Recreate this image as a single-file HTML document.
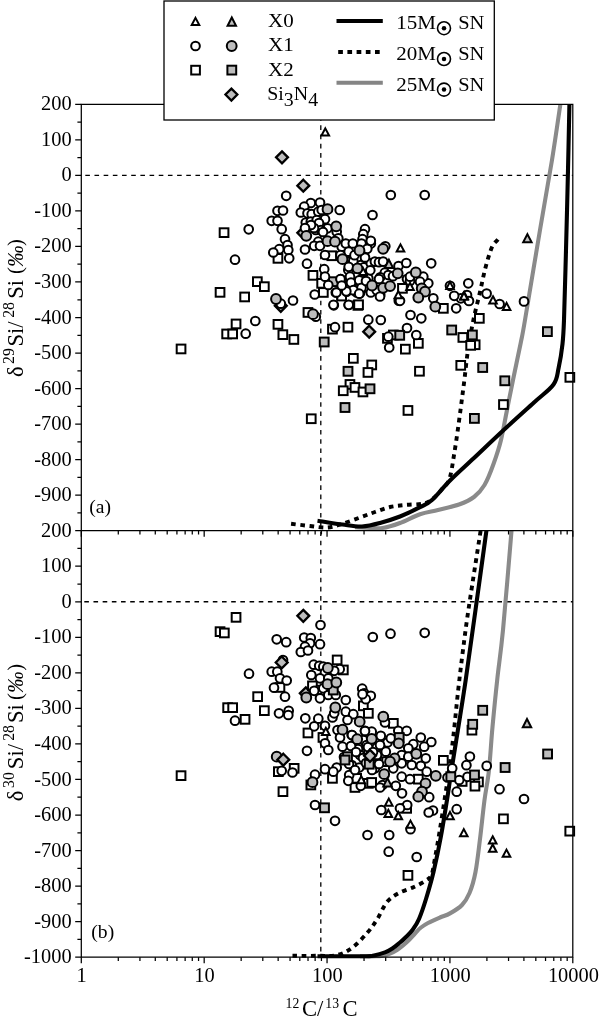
<!DOCTYPE html><html><head><meta charset="utf-8"><title>Si isotopes vs 12C/13C</title>
<style>html,body{margin:0;padding:0;background:#fff}svg{display:block}text{font-family:"Liberation Serif","DejaVu Serif",serif;fill:#000}</style></head><body>
<svg width="600" height="1021" viewBox="0 0 600 1021">
<rect width="600" height="1021" fill="#fff"/>
<defs><clipPath id="ca"><rect x="81.3" y="104.3" width="493.5" height="426.4"/></clipPath><clipPath id="cb"><rect x="81.3" y="530.7" width="493.5" height="428.7"/></clipPath></defs>
<g stroke="#000" stroke-width="1.3" fill="none">
<path d="M85.3 175.374 H572.8" stroke-dasharray="4.6 4.58"/>
<path d="M84.3 601.774 H572.8" stroke-dasharray="4.6 4.58"/>
<path d="M320.8 106.9 V957.2" stroke-dasharray="4.6 4.63"/>
</g>
<g fill="none" stroke-linejoin="round" clip-path="url(#ca)">
<path d="M355.0 527.3 C356.7 527.3 360.4 527.5 365.0 527.6 C369.6 527.7 376.7 528.8 382.5 528.0 C388.3 527.2 393.8 525.3 400.0 523.0 C406.2 520.7 413.7 516.4 420.0 514.2 C426.3 512.0 431.5 511.6 438.0 510.0 C444.5 508.4 453.0 506.7 459.0 504.5 C465.0 502.3 469.8 500.2 474.0 497.0 C478.2 493.8 481.2 490.5 484.5 485.0 C487.8 479.5 490.8 471.5 493.5 464.0 C496.2 456.5 498.8 449.0 501.0 440.0 C503.2 431.0 505.0 420.0 507.0 410.0 C509.0 400.0 510.8 391.0 513.0 380.0 C515.2 369.0 518.5 354.0 520.5 344.0 C522.5 334.0 521.8 339.0 525.0 320.0 C528.2 301.0 535.5 256.7 540.0 230.0 C544.5 203.3 548.5 181.7 552.0 160.0 C555.5 138.3 559.5 110.0 561.0 100.0" stroke="#8a8a8a" stroke-width="4.1"/>
<path d="M317.5 520.7 C321.7 521.3 335.1 523.5 342.5 524.5 C349.9 525.5 355.8 526.8 362.0 526.5 C368.2 526.2 373.7 524.7 380.0 523.0 C386.3 521.3 393.3 519.1 400.0 516.5 C406.7 513.9 414.7 509.9 420.0 507.2 C425.3 504.4 427.0 504.4 432.0 500.0 C437.0 495.6 443.0 487.5 450.0 480.5 C457.0 473.5 465.5 466.0 474.0 458.0 C482.5 450.0 491.0 441.8 501.0 432.5 C511.0 423.2 525.2 410.5 534.0 402.5 C542.8 394.5 549.4 390.2 553.5 384.5 C557.6 378.8 557.1 374.8 558.6 368.0 C560.1 361.2 561.6 352.0 562.5 344.0 C563.4 336.0 563.4 335.7 564.0 320.0 C564.6 304.3 565.3 275.0 566.0 250.0 C566.7 225.0 567.4 195.0 568.0 170.0 C568.6 145.0 569.2 111.7 569.5 100.0" stroke="#000" stroke-width="4.1"/>
<path d="M498.0 239.5 C497.0 240.8 494.1 242.2 492.0 247.0 C489.9 251.8 487.4 260.5 485.4 268.0 C483.4 275.5 482.0 283.3 480.0 292.0 C478.0 300.7 475.4 310.3 473.4 320.0 C471.4 329.7 469.5 340.0 468.0 350.0 C466.5 360.0 465.6 370.0 464.4 380.0 C463.1 390.0 462.1 398.0 460.5 410.0 C458.9 422.0 456.4 440.5 454.5 452.0 C452.6 463.5 451.5 472.8 449.4 479.0 C447.3 485.2 444.9 485.6 442.0 489.0 C439.1 492.4 435.2 497.1 432.0 499.5 C428.8 501.9 427.0 502.8 422.5 503.7 C418.0 504.6 410.4 504.4 405.0 505.0 C399.6 505.6 395.0 505.8 390.0 507.0 C385.0 508.2 380.0 510.2 375.0 512.0 C370.0 513.8 365.4 515.5 360.0 517.5 C354.6 519.5 347.9 522.0 342.5 523.7 C337.1 525.4 332.9 527.1 327.5 527.5 C322.1 527.9 316.2 526.6 310.0 526.0 C303.8 525.4 293.8 524.1 290.5 523.7" stroke="#000" stroke-width="3.9" stroke-dasharray="4.6 4.6"/>
</g>
<g fill="none" stroke-linejoin="round" clip-path="url(#cb)">
<path d="M360.0 956.3 C362.7 956.3 372.2 956.4 376.0 956.3 C379.8 956.2 380.7 956.0 383.0 955.6 C385.3 955.2 387.7 954.5 390.0 953.6 C392.3 952.7 394.8 951.4 397.0 950.0 C399.2 948.6 401.0 947.2 403.0 945.5 C405.0 943.8 407.0 942.0 409.0 940.0 C411.0 938.0 413.0 935.6 415.0 933.5 C417.0 931.4 418.8 929.2 421.0 927.5 C423.2 925.8 424.8 924.7 428.0 923.0 C431.2 921.3 436.3 919.1 440.0 917.5 C443.7 915.9 446.3 915.5 450.0 913.4 C453.7 911.3 458.8 908.4 462.0 905.0 C465.2 901.6 467.2 898.5 469.5 893.0 C471.8 887.5 473.8 881.0 475.5 872.0 C477.2 863.0 478.5 851.0 480.0 839.0 C481.5 827.0 483.0 811.5 484.5 800.0 C486.0 788.5 487.7 782.2 489.0 770.0 C490.3 757.8 491.1 742.0 492.5 727.0 C493.9 712.0 495.4 696.2 497.2 680.0 C498.9 663.8 500.5 655.8 503.0 630.0 C505.5 604.2 510.5 542.5 512.0 525.0" stroke="#8a8a8a" stroke-width="4.1"/>
<path d="M317.5 956.2 C325.6 956.2 356.6 956.3 366.0 956.2 C375.4 956.1 370.8 956.0 374.0 955.4 C377.2 954.8 381.8 953.5 385.0 952.3 C388.2 951.1 390.5 949.6 393.0 948.0 C395.5 946.4 397.8 944.3 400.0 942.5 C402.2 940.7 403.9 939.1 406.0 937.0 C408.1 934.9 410.3 933.0 412.5 930.0 C414.7 927.0 416.8 924.2 419.0 919.0 C421.2 913.8 423.6 906.8 426.0 899.0 C428.4 891.2 431.0 882.5 433.5 872.0 C436.0 861.5 438.8 848.0 441.0 836.0 C443.2 824.0 445.2 811.0 447.0 800.0 C448.8 789.0 449.9 780.0 451.5 770.0 C453.1 760.0 453.9 755.0 456.3 740.0 C458.7 725.0 462.5 701.7 465.7 680.0 C468.9 658.3 471.9 635.8 475.5 610.0 C479.1 584.2 485.2 539.2 487.2 525.0" stroke="#000" stroke-width="4.1"/>
<path d="M482.0 522.0 C479.8 536.0 472.2 584.7 469.0 606.0 C465.8 627.3 464.8 636.0 463.0 650.0 C461.2 664.0 459.8 675.8 458.2 690.0 C456.6 704.2 455.0 721.7 453.5 735.0 C452.0 748.3 450.5 759.2 449.0 770.0 C447.5 780.8 446.1 789.7 444.5 800.0 C442.9 810.3 441.1 822.3 439.5 832.0 C437.9 841.7 436.3 850.8 435.0 858.0 C433.7 865.2 433.0 871.3 431.5 875.0 C430.0 878.7 428.9 878.4 426.0 880.4 C423.1 882.4 418.5 884.9 414.0 887.0 C409.5 889.1 403.5 890.5 399.0 893.0 C394.5 895.5 390.6 897.7 387.0 902.0 C383.4 906.3 380.8 913.6 377.5 918.7 C374.2 923.8 371.7 927.7 367.5 932.5 C363.3 937.3 357.5 943.8 352.5 947.5 C347.5 951.2 343.2 953.6 337.5 955.0 C331.8 956.4 325.9 955.7 318.0 955.8 C310.1 955.9 294.7 955.8 290.0 955.8" stroke="#000" stroke-width="3.9" stroke-dasharray="4.6 4.6"/>
</g>
<g stroke="#000" stroke-width="2" stroke-linejoin="miter">
<path d="M303.3 226.9 l5.95 5.95 l-5.95 5.95 l-5.95 -5.95 z" fill="#bdbdbd" stroke-width="2.3"/>
<path d="M280.8 299.9 l5.95 5.95 l-5.95 5.95 l-5.95 -5.95 z" fill="#bdbdbd" stroke-width="2.3"/>
<path d="M305.8 687.4 l5.95 5.95 l-5.95 5.95 l-5.95 -5.95 z" fill="#bdbdbd" stroke-width="2.3"/>
<rect x="328.9" y="277.3" width="8.8" height="8.8" fill="#bdbdbd"/>
<rect x="219.7" y="228.3" width="8.7" height="8.7" fill="#fff"/>
<rect x="215.7" y="288.0" width="8.7" height="8.7" fill="#fff"/>
<rect x="253.0" y="277.3" width="8.7" height="8.7" fill="#fff"/>
<rect x="260.0" y="282.3" width="8.7" height="8.7" fill="#fff"/>
<rect x="240.3" y="292.6" width="8.7" height="8.7" fill="#fff"/>
<rect x="231.7" y="319.6" width="8.7" height="8.7" fill="#fff"/>
<rect x="222.3" y="329.6" width="8.7" height="8.7" fill="#fff"/>
<rect x="228.3" y="329.6" width="8.7" height="8.7" fill="#fff"/>
<rect x="176.7" y="344.6" width="8.7" height="8.7" fill="#fff"/>
<rect x="273.6" y="320.0" width="8.7" height="8.7" fill="#fff"/>
<rect x="273.6" y="254.0" width="8.7" height="8.7" fill="#fff"/>
<rect x="308.6" y="271.0" width="8.7" height="8.7" fill="#fff"/>
<rect x="317.3" y="279.0" width="8.7" height="8.7" fill="#fff"/>
<rect x="319.0" y="288.1" width="8.7" height="8.7" fill="#fff"/>
<rect x="337.3" y="290.6" width="8.7" height="8.7" fill="#fff"/>
<rect x="303.6" y="308.1" width="8.7" height="8.7" fill="#fff"/>
<rect x="353.5" y="301.0" width="8.7" height="8.7" fill="#fff"/>
<rect x="278.5" y="330.3" width="8.7" height="8.7" fill="#fff"/>
<rect x="289.5" y="335.1" width="8.7" height="8.7" fill="#fff"/>
<rect x="328.1" y="324.8" width="8.7" height="8.7" fill="#fff"/>
<rect x="343.6" y="322.8" width="8.7" height="8.7" fill="#fff"/>
<rect x="349.0" y="354.0" width="8.7" height="8.7" fill="#fff"/>
<rect x="354.2" y="300.4" width="8.7" height="8.7" fill="#fff"/>
<rect x="327.4" y="251.4" width="8.7" height="8.7" fill="#fff"/>
<rect x="337.3" y="291.7" width="8.7" height="8.7" fill="#fff"/>
<rect x="398.1" y="284.0" width="8.7" height="8.7" fill="#fff"/>
<rect x="439.0" y="304.0" width="8.7" height="8.7" fill="#fff"/>
<rect x="383.1" y="334.0" width="8.7" height="8.7" fill="#fff"/>
<rect x="389.0" y="330.6" width="8.7" height="8.7" fill="#fff"/>
<rect x="458.5" y="333.1" width="8.7" height="8.7" fill="#fff"/>
<rect x="414.0" y="339.0" width="8.7" height="8.7" fill="#fff"/>
<rect x="401.0" y="344.8" width="8.7" height="8.7" fill="#fff"/>
<rect x="475.0" y="314.0" width="8.7" height="8.7" fill="#fff"/>
<rect x="367.4" y="360.6" width="8.7" height="8.7" fill="#fff"/>
<rect x="363.6" y="368.1" width="8.7" height="8.7" fill="#fff"/>
<rect x="345.6" y="380.1" width="8.7" height="8.7" fill="#fff"/>
<rect x="350.6" y="383.1" width="8.7" height="8.7" fill="#fff"/>
<rect x="338.9" y="386.4" width="8.7" height="8.7" fill="#fff"/>
<rect x="358.6" y="387.6" width="8.7" height="8.7" fill="#fff"/>
<rect x="306.9" y="414.4" width="8.7" height="8.7" fill="#fff"/>
<rect x="403.6" y="406.1" width="8.7" height="8.7" fill="#fff"/>
<rect x="415.1" y="366.9" width="8.7" height="8.7" fill="#fff"/>
<rect x="470.8" y="340.4" width="8.7" height="8.7" fill="#fff"/>
<rect x="466.3" y="341.0" width="8.7" height="8.7" fill="#fff"/>
<rect x="456.4" y="361.0" width="8.7" height="8.7" fill="#fff"/>
<rect x="499.1" y="400.2" width="8.7" height="8.7" fill="#fff"/>
<rect x="565.5" y="373.0" width="8.7" height="8.7" fill="#fff"/>
<rect x="231.7" y="613.0" width="8.7" height="8.7" fill="#fff"/>
<rect x="215.7" y="627.3" width="8.7" height="8.7" fill="#fff"/>
<rect x="220.0" y="628.6" width="8.7" height="8.7" fill="#fff"/>
<rect x="253.3" y="692.3" width="8.7" height="8.7" fill="#fff"/>
<rect x="223.3" y="703.3" width="8.7" height="8.7" fill="#fff"/>
<rect x="228.3" y="703.3" width="8.7" height="8.7" fill="#fff"/>
<rect x="260.0" y="706.3" width="8.7" height="8.7" fill="#fff"/>
<rect x="240.7" y="715.0" width="8.7" height="8.7" fill="#fff"/>
<rect x="176.7" y="771.3" width="8.7" height="8.7" fill="#fff"/>
<rect x="274.0" y="767.3" width="8.7" height="8.7" fill="#fff"/>
<rect x="332.8" y="655.6" width="8.7" height="8.7" fill="#fff"/>
<rect x="339.0" y="665.6" width="8.7" height="8.7" fill="#fff"/>
<rect x="275.6" y="683.1" width="8.7" height="8.7" fill="#fff"/>
<rect x="308.1" y="681.5" width="8.7" height="8.7" fill="#fff"/>
<rect x="303.6" y="728.6" width="8.7" height="8.7" fill="#fff"/>
<rect x="318.6" y="733.1" width="8.7" height="8.7" fill="#fff"/>
<rect x="359.0" y="701.5" width="8.7" height="8.7" fill="#fff"/>
<rect x="364.0" y="709.0" width="8.7" height="8.7" fill="#fff"/>
<rect x="289.8" y="764.0" width="8.7" height="8.7" fill="#fff"/>
<rect x="306.5" y="780.6" width="8.7" height="8.7" fill="#fff"/>
<rect x="328.1" y="774.0" width="8.7" height="8.7" fill="#fff"/>
<rect x="352.3" y="774.0" width="8.7" height="8.7" fill="#fff"/>
<rect x="278.6" y="787.3" width="8.7" height="8.7" fill="#fff"/>
<rect x="350.6" y="783.1" width="8.7" height="8.7" fill="#fff"/>
<rect x="364.0" y="779.0" width="8.7" height="8.7" fill="#fff"/>
<rect x="389.0" y="719.0" width="8.7" height="8.7" fill="#fff"/>
<rect x="382.3" y="757.3" width="8.7" height="8.7" fill="#fff"/>
<rect x="414.0" y="774.8" width="8.7" height="8.7" fill="#fff"/>
<rect x="439.0" y="756.0" width="8.7" height="8.7" fill="#fff"/>
<rect x="367.3" y="778.1" width="8.7" height="8.7" fill="#fff"/>
<rect x="402.3" y="804.0" width="8.7" height="8.7" fill="#fff"/>
<rect x="403.6" y="871.0" width="8.7" height="8.7" fill="#fff"/>
<rect x="467.6" y="725.8" width="8.7" height="8.7" fill="#fff"/>
<rect x="457.8" y="777.1" width="8.7" height="8.7" fill="#fff"/>
<rect x="474.1" y="777.6" width="8.7" height="8.7" fill="#fff"/>
<rect x="470.6" y="781.8" width="8.7" height="8.7" fill="#fff"/>
<rect x="499.1" y="814.5" width="8.7" height="8.7" fill="#fff"/>
<rect x="565.4" y="826.8" width="8.7" height="8.7" fill="#fff"/>
<circle cx="248.7" cy="229.3" r="4.35" fill="#fff"/>
<circle cx="235.0" cy="259.7" r="4.35" fill="#fff"/>
<circle cx="255.3" cy="321.0" r="4.35" fill="#fff"/>
<circle cx="245.7" cy="333.7" r="4.35" fill="#fff"/>
<circle cx="286.2" cy="195.8" r="4.35" fill="#fff"/>
<circle cx="277.5" cy="210.8" r="4.35" fill="#fff"/>
<circle cx="283.0" cy="210.5" r="4.35" fill="#fff"/>
<circle cx="271.7" cy="220.8" r="4.35" fill="#fff"/>
<circle cx="277.5" cy="220.8" r="4.35" fill="#fff"/>
<circle cx="281.7" cy="229.2" r="4.35" fill="#fff"/>
<circle cx="285.0" cy="239.2" r="4.35" fill="#fff"/>
<circle cx="287.5" cy="245.0" r="4.35" fill="#fff"/>
<circle cx="279.2" cy="249.2" r="4.35" fill="#fff"/>
<circle cx="288.3" cy="250.0" r="4.35" fill="#fff"/>
<circle cx="273.3" cy="252.5" r="4.35" fill="#fff"/>
<circle cx="289.2" cy="258.3" r="4.35" fill="#fff"/>
<circle cx="310.8" cy="203.0" r="4.35" fill="#fff"/>
<circle cx="320.0" cy="202.5" r="4.35" fill="#fff"/>
<circle cx="304.2" cy="206.7" r="4.35" fill="#fff"/>
<circle cx="300.8" cy="212.5" r="4.35" fill="#fff"/>
<circle cx="307.5" cy="213.3" r="4.35" fill="#fff"/>
<circle cx="311.7" cy="214.2" r="4.35" fill="#fff"/>
<circle cx="318.3" cy="211.7" r="4.35" fill="#fff"/>
<circle cx="321.7" cy="210.0" r="4.35" fill="#fff"/>
<circle cx="339.7" cy="210.0" r="4.35" fill="#fff"/>
<circle cx="325.0" cy="219.2" r="4.35" fill="#fff"/>
<circle cx="305.8" cy="222.5" r="4.35" fill="#fff"/>
<circle cx="310.8" cy="221.7" r="4.35" fill="#fff"/>
<circle cx="316.7" cy="220.0" r="4.35" fill="#fff"/>
<circle cx="313.3" cy="226.7" r="4.35" fill="#fff"/>
<circle cx="320.0" cy="226.7" r="4.35" fill="#fff"/>
<circle cx="323.3" cy="228.3" r="4.35" fill="#fff"/>
<circle cx="327.5" cy="228.3" r="4.35" fill="#fff"/>
<circle cx="336.7" cy="231.7" r="4.35" fill="#fff"/>
<circle cx="315.8" cy="230.0" r="4.35" fill="#fff"/>
<circle cx="318.3" cy="241.7" r="4.35" fill="#fff"/>
<circle cx="314.2" cy="245.8" r="4.35" fill="#fff"/>
<circle cx="320.0" cy="245.8" r="4.35" fill="#fff"/>
<circle cx="338.3" cy="238.3" r="4.35" fill="#fff"/>
<circle cx="305.0" cy="249.5" r="4.35" fill="#fff"/>
<circle cx="325.0" cy="255.0" r="4.35" fill="#fff"/>
<circle cx="345.8" cy="244.2" r="4.35" fill="#fff"/>
<circle cx="341.7" cy="246.7" r="4.35" fill="#fff"/>
<circle cx="352.5" cy="247.5" r="4.35" fill="#fff"/>
<circle cx="365.0" cy="229.2" r="4.35" fill="#fff"/>
<circle cx="363.3" cy="234.2" r="4.35" fill="#fff"/>
<circle cx="362.5" cy="239.2" r="4.35" fill="#fff"/>
<circle cx="366.7" cy="246.7" r="4.35" fill="#fff"/>
<circle cx="348.3" cy="253.3" r="4.35" fill="#fff"/>
<circle cx="353.3" cy="255.0" r="4.35" fill="#fff"/>
<circle cx="307.0" cy="263.7" r="4.35" fill="#fff"/>
<circle cx="324.2" cy="269.2" r="4.35" fill="#fff"/>
<circle cx="325.0" cy="276.7" r="4.35" fill="#fff"/>
<circle cx="328.3" cy="285.0" r="4.35" fill="#fff"/>
<circle cx="340.8" cy="279.2" r="4.35" fill="#fff"/>
<circle cx="314.7" cy="294.5" r="4.35" fill="#fff"/>
<circle cx="335.8" cy="292.5" r="4.35" fill="#fff"/>
<circle cx="346.7" cy="291.7" r="4.35" fill="#fff"/>
<circle cx="352.5" cy="282.5" r="4.35" fill="#fff"/>
<circle cx="361.7" cy="287.5" r="4.35" fill="#fff"/>
<circle cx="356.7" cy="292.5" r="4.35" fill="#fff"/>
<circle cx="348.3" cy="270.0" r="4.35" fill="#fff"/>
<circle cx="353.3" cy="263.3" r="4.35" fill="#fff"/>
<circle cx="360.8" cy="265.0" r="4.35" fill="#fff"/>
<circle cx="365.0" cy="271.7" r="4.35" fill="#fff"/>
<circle cx="368.3" cy="278.3" r="4.35" fill="#fff"/>
<circle cx="356.7" cy="276.7" r="4.35" fill="#fff"/>
<circle cx="363.3" cy="281.7" r="4.35" fill="#fff"/>
<circle cx="348.3" cy="285.0" r="4.35" fill="#fff"/>
<circle cx="368.3" cy="288.3" r="4.35" fill="#fff"/>
<circle cx="360.0" cy="293.3" r="4.35" fill="#fff"/>
<circle cx="350.0" cy="276.7" r="4.35" fill="#fff"/>
<circle cx="280.8" cy="303.7" r="4.35" fill="#fff"/>
<circle cx="293.0" cy="300.5" r="4.35" fill="#fff"/>
<circle cx="315.8" cy="316.7" r="4.35" fill="#fff"/>
<circle cx="333.8" cy="305.3" r="4.35" fill="#fff"/>
<circle cx="348.7" cy="305.0" r="4.35" fill="#fff"/>
<circle cx="335.0" cy="327.2" r="4.35" fill="#fff"/>
<circle cx="368.3" cy="319.7" r="4.35" fill="#fff"/>
<circle cx="345.8" cy="243.5" r="4.35" fill="#fff"/>
<circle cx="352.8" cy="243.5" r="4.35" fill="#fff"/>
<circle cx="361.5" cy="243.5" r="4.35" fill="#fff"/>
<circle cx="370.8" cy="243.5" r="4.35" fill="#fff"/>
<circle cx="367.3" cy="248.8" r="4.35" fill="#fff"/>
<circle cx="348.7" cy="251.7" r="4.35" fill="#fff"/>
<circle cx="340.5" cy="255.2" r="4.35" fill="#fff"/>
<circle cx="353.3" cy="261.0" r="4.35" fill="#fff"/>
<circle cx="348.7" cy="266.8" r="4.35" fill="#fff"/>
<circle cx="363.8" cy="267.4" r="4.35" fill="#fff"/>
<circle cx="370.8" cy="263.3" r="4.35" fill="#fff"/>
<circle cx="374.9" cy="261.6" r="4.35" fill="#fff"/>
<circle cx="379.0" cy="262.2" r="4.35" fill="#fff"/>
<circle cx="383.1" cy="261.6" r="4.35" fill="#fff"/>
<circle cx="370.3" cy="270.3" r="4.35" fill="#fff"/>
<circle cx="384.8" cy="272.7" r="4.35" fill="#fff"/>
<circle cx="388.3" cy="275.0" r="4.35" fill="#fff"/>
<circle cx="393.0" cy="276.2" r="4.35" fill="#fff"/>
<circle cx="380.2" cy="277.3" r="4.35" fill="#fff"/>
<circle cx="340.5" cy="279.1" r="4.35" fill="#fff"/>
<circle cx="351.0" cy="282.6" r="4.35" fill="#fff"/>
<circle cx="359.2" cy="280.3" r="4.35" fill="#fff"/>
<circle cx="361.5" cy="287.8" r="4.35" fill="#fff"/>
<circle cx="353.3" cy="290.2" r="4.35" fill="#fff"/>
<circle cx="346.3" cy="291.3" r="4.35" fill="#fff"/>
<circle cx="336.4" cy="292.5" r="4.35" fill="#fff"/>
<circle cx="341.7" cy="285.5" r="4.35" fill="#fff"/>
<circle cx="359.2" cy="293.7" r="4.35" fill="#fff"/>
<circle cx="370.8" cy="292.5" r="4.35" fill="#fff"/>
<circle cx="380.2" cy="294.8" r="4.35" fill="#fff"/>
<circle cx="376.7" cy="290.2" r="4.35" fill="#fff"/>
<circle cx="333.5" cy="304.8" r="4.35" fill="#fff"/>
<circle cx="348.7" cy="304.8" r="4.35" fill="#fff"/>
<circle cx="398.8" cy="300.7" r="4.35" fill="#fff"/>
<circle cx="365.0" cy="257.5" r="4.35" fill="#fff"/>
<circle cx="354.5" cy="255.2" r="4.35" fill="#fff"/>
<circle cx="390.8" cy="195.0" r="4.35" fill="#fff"/>
<circle cx="424.7" cy="195.0" r="4.35" fill="#fff"/>
<circle cx="372.5" cy="215.0" r="4.35" fill="#fff"/>
<circle cx="370.8" cy="240.8" r="4.35" fill="#fff"/>
<circle cx="385.3" cy="246.3" r="4.35" fill="#fff"/>
<circle cx="366.0" cy="281.0" r="4.35" fill="#fff"/>
<circle cx="380.0" cy="296.5" r="4.35" fill="#fff"/>
<circle cx="379.0" cy="279.0" r="4.35" fill="#fff"/>
<circle cx="407.0" cy="279.0" r="4.35" fill="#fff"/>
<circle cx="410.0" cy="281.0" r="4.35" fill="#fff"/>
<circle cx="398.5" cy="266.0" r="4.35" fill="#fff"/>
<circle cx="406.3" cy="263.0" r="4.35" fill="#fff"/>
<circle cx="431.2" cy="263.3" r="4.35" fill="#fff"/>
<circle cx="400.0" cy="300.8" r="4.35" fill="#fff"/>
<circle cx="433.3" cy="298.3" r="4.35" fill="#fff"/>
<circle cx="428.3" cy="283.3" r="4.35" fill="#fff"/>
<circle cx="423.3" cy="276.7" r="4.35" fill="#fff"/>
<circle cx="410.0" cy="276.7" r="4.35" fill="#fff"/>
<circle cx="420.0" cy="281.7" r="4.35" fill="#fff"/>
<circle cx="450.0" cy="285.8" r="4.35" fill="#fff"/>
<circle cx="468.3" cy="283.3" r="4.35" fill="#fff"/>
<circle cx="460.8" cy="298.3" r="4.35" fill="#fff"/>
<circle cx="454.2" cy="295.8" r="4.35" fill="#fff"/>
<circle cx="468.3" cy="300.0" r="4.35" fill="#fff"/>
<circle cx="456.2" cy="308.3" r="4.35" fill="#fff"/>
<circle cx="410.5" cy="315.0" r="4.35" fill="#fff"/>
<circle cx="421.3" cy="318.3" r="4.35" fill="#fff"/>
<circle cx="380.8" cy="320.0" r="4.35" fill="#fff"/>
<circle cx="407.0" cy="328.0" r="4.35" fill="#fff"/>
<circle cx="416.3" cy="335.0" r="4.35" fill="#fff"/>
<circle cx="388.3" cy="336.7" r="4.35" fill="#fff"/>
<circle cx="389.2" cy="347.5" r="4.35" fill="#fff"/>
<circle cx="486.6" cy="293.6" r="4.35" fill="#fff"/>
<circle cx="499.6" cy="304.0" r="4.35" fill="#fff"/>
<circle cx="524.0" cy="301.4" r="4.35" fill="#fff"/>
<circle cx="467.0" cy="295.0" r="4.35" fill="#fff"/>
<circle cx="469.0" cy="301.0" r="4.35" fill="#fff"/>
<circle cx="249.0" cy="673.7" r="4.35" fill="#fff"/>
<circle cx="235.0" cy="720.7" r="4.35" fill="#fff"/>
<circle cx="276.7" cy="639.3" r="4.35" fill="#fff"/>
<circle cx="271.7" cy="671.7" r="4.35" fill="#fff"/>
<circle cx="277.3" cy="671.7" r="4.35" fill="#fff"/>
<circle cx="274.0" cy="687.7" r="4.35" fill="#fff"/>
<circle cx="279.0" cy="713.3" r="4.35" fill="#fff"/>
<circle cx="280.0" cy="678.3" r="4.35" fill="#fff"/>
<circle cx="320.5" cy="625.0" r="4.35" fill="#fff"/>
<circle cx="286.2" cy="642.2" r="4.35" fill="#fff"/>
<circle cx="304.2" cy="637.5" r="4.35" fill="#fff"/>
<circle cx="310.8" cy="638.0" r="4.35" fill="#fff"/>
<circle cx="310.0" cy="643.3" r="4.35" fill="#fff"/>
<circle cx="320.0" cy="644.2" r="4.35" fill="#fff"/>
<circle cx="305.0" cy="646.7" r="4.35" fill="#fff"/>
<circle cx="300.8" cy="652.0" r="4.35" fill="#fff"/>
<circle cx="308.0" cy="650.5" r="4.35" fill="#fff"/>
<circle cx="283.0" cy="660.0" r="4.35" fill="#fff"/>
<circle cx="313.7" cy="664.7" r="4.35" fill="#fff"/>
<circle cx="319.2" cy="665.8" r="4.35" fill="#fff"/>
<circle cx="323.3" cy="666.7" r="4.35" fill="#fff"/>
<circle cx="339.7" cy="669.2" r="4.35" fill="#fff"/>
<circle cx="334.2" cy="670.8" r="4.35" fill="#fff"/>
<circle cx="325.0" cy="672.5" r="4.35" fill="#fff"/>
<circle cx="311.3" cy="675.0" r="4.35" fill="#fff"/>
<circle cx="320.0" cy="678.3" r="4.35" fill="#fff"/>
<circle cx="286.7" cy="680.5" r="4.35" fill="#fff"/>
<circle cx="285.0" cy="696.7" r="4.35" fill="#fff"/>
<circle cx="328.3" cy="678.3" r="4.35" fill="#fff"/>
<circle cx="318.3" cy="690.0" r="4.35" fill="#fff"/>
<circle cx="323.3" cy="688.3" r="4.35" fill="#fff"/>
<circle cx="328.3" cy="695.0" r="4.35" fill="#fff"/>
<circle cx="335.8" cy="695.0" r="4.35" fill="#fff"/>
<circle cx="314.2" cy="690.8" r="4.35" fill="#fff"/>
<circle cx="320.0" cy="698.3" r="4.35" fill="#fff"/>
<circle cx="362.2" cy="688.7" r="4.35" fill="#fff"/>
<circle cx="364.2" cy="693.3" r="4.35" fill="#fff"/>
<circle cx="368.3" cy="696.7" r="4.35" fill="#fff"/>
<circle cx="345.8" cy="700.0" r="4.35" fill="#fff"/>
<circle cx="372.8" cy="637.0" r="4.35" fill="#fff"/>
<circle cx="390.5" cy="633.7" r="4.35" fill="#fff"/>
<circle cx="424.7" cy="632.8" r="4.35" fill="#fff"/>
<circle cx="288.7" cy="710.8" r="4.35" fill="#fff"/>
<circle cx="288.3" cy="715.0" r="4.35" fill="#fff"/>
<circle cx="305.3" cy="718.3" r="4.35" fill="#fff"/>
<circle cx="318.3" cy="718.7" r="4.35" fill="#fff"/>
<circle cx="314.2" cy="726.3" r="4.35" fill="#fff"/>
<circle cx="325.0" cy="725.8" r="4.35" fill="#fff"/>
<circle cx="325.0" cy="743.3" r="4.35" fill="#fff"/>
<circle cx="328.3" cy="750.0" r="4.35" fill="#fff"/>
<circle cx="307.0" cy="750.8" r="4.35" fill="#fff"/>
<circle cx="332.5" cy="717.5" r="4.35" fill="#fff"/>
<circle cx="334.2" cy="713.3" r="4.35" fill="#fff"/>
<circle cx="345.8" cy="711.7" r="4.35" fill="#fff"/>
<circle cx="353.3" cy="714.2" r="4.35" fill="#fff"/>
<circle cx="347.5" cy="720.0" r="4.35" fill="#fff"/>
<circle cx="337.5" cy="730.0" r="4.35" fill="#fff"/>
<circle cx="340.0" cy="737.5" r="4.35" fill="#fff"/>
<circle cx="342.5" cy="746.7" r="4.35" fill="#fff"/>
<circle cx="351.7" cy="735.0" r="4.35" fill="#fff"/>
<circle cx="365.0" cy="730.8" r="4.35" fill="#fff"/>
<circle cx="363.3" cy="740.0" r="4.35" fill="#fff"/>
<circle cx="353.3" cy="745.0" r="4.35" fill="#fff"/>
<circle cx="360.0" cy="751.7" r="4.35" fill="#fff"/>
<circle cx="365.0" cy="696.7" r="4.35" fill="#fff"/>
<circle cx="281.7" cy="770.8" r="4.35" fill="#fff"/>
<circle cx="292.5" cy="772.5" r="4.35" fill="#fff"/>
<circle cx="325.0" cy="769.2" r="4.35" fill="#fff"/>
<circle cx="336.7" cy="767.5" r="4.35" fill="#fff"/>
<circle cx="333.3" cy="771.7" r="4.35" fill="#fff"/>
<circle cx="315.0" cy="774.7" r="4.35" fill="#fff"/>
<circle cx="349.2" cy="775.0" r="4.35" fill="#fff"/>
<circle cx="359.2" cy="767.5" r="4.35" fill="#fff"/>
<circle cx="351.7" cy="765.0" r="4.35" fill="#fff"/>
<circle cx="348.3" cy="780.8" r="4.35" fill="#fff"/>
<circle cx="360.8" cy="785.8" r="4.35" fill="#fff"/>
<circle cx="315.0" cy="805.0" r="4.35" fill="#fff"/>
<circle cx="335.0" cy="820.8" r="4.35" fill="#fff"/>
<circle cx="367.5" cy="835.0" r="4.35" fill="#fff"/>
<circle cx="370.8" cy="695.8" r="4.35" fill="#fff"/>
<circle cx="365.8" cy="699.2" r="4.35" fill="#fff"/>
<circle cx="362.5" cy="694.2" r="4.35" fill="#fff"/>
<circle cx="385.0" cy="722.5" r="4.35" fill="#fff"/>
<circle cx="398.3" cy="730.8" r="4.35" fill="#fff"/>
<circle cx="406.7" cy="730.8" r="4.35" fill="#fff"/>
<circle cx="380.8" cy="735.8" r="4.35" fill="#fff"/>
<circle cx="387.5" cy="742.5" r="4.35" fill="#fff"/>
<circle cx="390.8" cy="738.3" r="4.35" fill="#fff"/>
<circle cx="420.8" cy="737.5" r="4.35" fill="#fff"/>
<circle cx="431.3" cy="742.0" r="4.35" fill="#fff"/>
<circle cx="413.3" cy="744.2" r="4.35" fill="#fff"/>
<circle cx="424.2" cy="746.7" r="4.35" fill="#fff"/>
<circle cx="408.3" cy="748.3" r="4.35" fill="#fff"/>
<circle cx="425.8" cy="758.3" r="4.35" fill="#fff"/>
<circle cx="376.7" cy="747.5" r="4.35" fill="#fff"/>
<circle cx="385.8" cy="751.7" r="4.35" fill="#fff"/>
<circle cx="366.7" cy="745.0" r="4.35" fill="#fff"/>
<circle cx="371.7" cy="731.7" r="4.35" fill="#fff"/>
<circle cx="401.7" cy="755.0" r="4.35" fill="#fff"/>
<circle cx="408.3" cy="756.7" r="4.35" fill="#fff"/>
<circle cx="376.7" cy="756.7" r="4.35" fill="#fff"/>
<circle cx="411.7" cy="765.0" r="4.35" fill="#fff"/>
<circle cx="420.8" cy="765.8" r="4.35" fill="#fff"/>
<circle cx="401.7" cy="763.3" r="4.35" fill="#fff"/>
<circle cx="426.7" cy="771.7" r="4.35" fill="#fff"/>
<circle cx="375.0" cy="768.3" r="4.35" fill="#fff"/>
<circle cx="393.3" cy="768.3" r="4.35" fill="#fff"/>
<circle cx="401.7" cy="776.7" r="4.35" fill="#fff"/>
<circle cx="410.0" cy="779.2" r="4.35" fill="#fff"/>
<circle cx="452.2" cy="768.3" r="4.35" fill="#fff"/>
<circle cx="447.5" cy="777.5" r="4.35" fill="#fff"/>
<circle cx="459.2" cy="780.0" r="4.35" fill="#fff"/>
<circle cx="382.5" cy="785.0" r="4.35" fill="#fff"/>
<circle cx="395.8" cy="785.8" r="4.35" fill="#fff"/>
<circle cx="380.0" cy="787.5" r="4.35" fill="#fff"/>
<circle cx="402.0" cy="793.3" r="4.35" fill="#fff"/>
<circle cx="429.2" cy="797.2" r="4.35" fill="#fff"/>
<circle cx="407.2" cy="805.0" r="4.35" fill="#fff"/>
<circle cx="400.0" cy="808.3" r="4.35" fill="#fff"/>
<circle cx="381.3" cy="810.0" r="4.35" fill="#fff"/>
<circle cx="433.0" cy="810.5" r="4.35" fill="#fff"/>
<circle cx="428.7" cy="812.5" r="4.35" fill="#fff"/>
<circle cx="410.5" cy="829.2" r="4.35" fill="#fff"/>
<circle cx="389.2" cy="835.0" r="4.35" fill="#fff"/>
<circle cx="388.7" cy="851.7" r="4.35" fill="#fff"/>
<circle cx="416.7" cy="857.0" r="4.35" fill="#fff"/>
<circle cx="456.7" cy="791.7" r="4.35" fill="#fff"/>
<circle cx="456.7" cy="809.2" r="4.35" fill="#fff"/>
<circle cx="469.9" cy="756.5" r="4.35" fill="#fff"/>
<circle cx="466.4" cy="765.2" r="4.35" fill="#fff"/>
<circle cx="486.7" cy="765.9" r="4.35" fill="#fff"/>
<circle cx="467.5" cy="776.8" r="4.35" fill="#fff"/>
<circle cx="499.5" cy="789.2" r="4.35" fill="#fff"/>
<circle cx="524.0" cy="799.0" r="4.35" fill="#fff"/>
<circle cx="365.0" cy="731.0" r="4.35" fill="#fff"/>
<circle cx="352.0" cy="735.0" r="4.35" fill="#fff"/>
<circle cx="358.0" cy="749.0" r="4.35" fill="#fff"/>
<circle cx="360.0" cy="755.0" r="4.35" fill="#fff"/>
<circle cx="377.0" cy="755.0" r="4.35" fill="#fff"/>
<circle cx="319.0" cy="223.0" r="4.35" fill="#fff"/>
<circle cx="321.0" cy="230.0" r="4.35" fill="#fff"/>
<circle cx="314.0" cy="228.0" r="4.35" fill="#fff"/>
<circle cx="323.0" cy="232.0" r="4.35" fill="#fff"/>
<circle cx="311.0" cy="225.0" r="4.35" fill="#fff"/>
<circle cx="305.0" cy="228.0" r="4.35" fill="#fff"/>
<circle cx="351.0" cy="746.0" r="4.35" fill="#fff"/>
<circle cx="356.0" cy="752.0" r="4.35" fill="#fff"/>
<circle cx="363.0" cy="758.0" r="4.35" fill="#fff"/>
<circle cx="368.0" cy="747.0" r="4.35" fill="#fff"/>
<circle cx="373.0" cy="752.0" r="4.35" fill="#fff"/>
<circle cx="366.0" cy="763.0" r="4.35" fill="#fff"/>
<circle cx="379.0" cy="764.0" r="4.35" fill="#fff"/>
<circle cx="349.0" cy="764.0" r="4.35" fill="#fff"/>
<circle cx="355.0" cy="770.0" r="4.35" fill="#fff"/>
<circle cx="372.0" cy="770.0" r="4.35" fill="#fff"/>
<circle cx="344.0" cy="757.0" r="4.35" fill="#fff"/>
<circle cx="380.0" cy="745.0" r="4.35" fill="#fff"/>
<path d="M325.3 128.4 l3.8 7.2 h-7.6 z" fill="#fff"/>
<path d="M400.5 244.4 l3.8 7.2 h-7.6 z" fill="#fff"/>
<path d="M363.0 267.9 l3.8 7.2 h-7.6 z" fill="#fff"/>
<path d="M410.0 282.8 l3.8 7.2 h-7.6 z" fill="#fff"/>
<path d="M398.3 291.1 l3.8 7.2 h-7.6 z" fill="#fff"/>
<path d="M450.0 281.9 l3.8 7.2 h-7.6 z" fill="#fff"/>
<path d="M464.2 291.9 l3.8 7.2 h-7.6 z" fill="#fff"/>
<path d="M493.0 296.3 l3.8 7.2 h-7.6 z" fill="#fff"/>
<path d="M506.6 302.9 l3.8 7.2 h-7.6 z" fill="#fff"/>
<path d="M464.0 292.6 l3.8 7.2 h-7.6 z" fill="#fff"/>
<path d="M325.8 727.8 l3.8 7.2 h-7.6 z" fill="#fff"/>
<path d="M361.3 776.1 l3.8 7.2 h-7.6 z" fill="#fff"/>
<path d="M388.8 798.6 l3.8 7.2 h-7.6 z" fill="#fff"/>
<path d="M388.3 809.8 l3.8 7.2 h-7.6 z" fill="#fff"/>
<path d="M398.3 812.0 l3.8 7.2 h-7.6 z" fill="#fff"/>
<path d="M410.5 820.6 l3.8 7.2 h-7.6 z" fill="#fff"/>
<path d="M450.0 812.0 l3.8 7.2 h-7.6 z" fill="#fff"/>
<path d="M463.8 829.1 l3.8 7.2 h-7.6 z" fill="#fff"/>
<path d="M492.7 836.3 l3.8 7.2 h-7.6 z" fill="#fff"/>
<path d="M492.7 844.5 l3.8 7.2 h-7.6 z" fill="#fff"/>
<path d="M506.5 849.6 l3.8 7.2 h-7.6 z" fill="#fff"/>
<rect x="319.8" y="337.6" width="8.8" height="8.8" fill="#bdbdbd"/>
<rect x="395.3" y="330.9" width="8.8" height="8.8" fill="#bdbdbd"/>
<rect x="447.3" y="325.6" width="8.8" height="8.8" fill="#bdbdbd"/>
<rect x="468.0" y="330.6" width="8.8" height="8.8" fill="#bdbdbd"/>
<rect x="543.0" y="327.2" width="8.8" height="8.8" fill="#bdbdbd"/>
<rect x="343.6" y="366.9" width="8.8" height="8.8" fill="#bdbdbd"/>
<rect x="365.6" y="384.4" width="8.8" height="8.8" fill="#bdbdbd"/>
<rect x="340.6" y="403.1" width="8.8" height="8.8" fill="#bdbdbd"/>
<rect x="478.3" y="363.1" width="8.8" height="8.8" fill="#bdbdbd"/>
<rect x="500.4" y="376.4" width="8.8" height="8.8" fill="#bdbdbd"/>
<rect x="470.0" y="414.0" width="8.8" height="8.8" fill="#bdbdbd"/>
<rect x="328.9" y="685.6" width="8.8" height="8.8" fill="#bdbdbd"/>
<rect x="343.1" y="752.3" width="8.8" height="8.8" fill="#bdbdbd"/>
<rect x="340.6" y="755.6" width="8.8" height="8.8" fill="#bdbdbd"/>
<rect x="364.8" y="759.8" width="8.8" height="8.8" fill="#bdbdbd"/>
<rect x="320.1" y="803.4" width="8.8" height="8.8" fill="#bdbdbd"/>
<rect x="394.8" y="733.1" width="8.8" height="8.8" fill="#bdbdbd"/>
<rect x="446.4" y="772.3" width="8.8" height="8.8" fill="#bdbdbd"/>
<rect x="478.3" y="705.9" width="8.8" height="8.8" fill="#bdbdbd"/>
<rect x="468.3" y="719.9" width="8.8" height="8.8" fill="#bdbdbd"/>
<rect x="543.2" y="749.6" width="8.8" height="8.8" fill="#bdbdbd"/>
<rect x="500.7" y="763.1" width="8.8" height="8.8" fill="#bdbdbd"/>
<rect x="470.1" y="770.6" width="8.8" height="8.8" fill="#bdbdbd"/>
<circle cx="276.0" cy="299.0" r="4.9" fill="#bdbdbd"/>
<circle cx="327.5" cy="209.2" r="4.9" fill="#bdbdbd"/>
<circle cx="336.2" cy="226.3" r="4.9" fill="#bdbdbd"/>
<circle cx="306.3" cy="235.8" r="4.9" fill="#bdbdbd"/>
<circle cx="327.5" cy="241.2" r="4.9" fill="#bdbdbd"/>
<circle cx="335.0" cy="241.7" r="4.9" fill="#bdbdbd"/>
<circle cx="359.5" cy="250.5" r="4.9" fill="#bdbdbd"/>
<circle cx="342.5" cy="259.2" r="4.9" fill="#bdbdbd"/>
<circle cx="357.5" cy="268.3" r="4.9" fill="#bdbdbd"/>
<circle cx="313.0" cy="314.2" r="4.9" fill="#bdbdbd"/>
<circle cx="383.1" cy="248.8" r="4.9" fill="#bdbdbd"/>
<circle cx="372.0" cy="285.5" r="4.9" fill="#bdbdbd"/>
<circle cx="383.1" cy="287.8" r="4.9" fill="#bdbdbd"/>
<circle cx="390.1" cy="286.1" r="4.9" fill="#bdbdbd"/>
<circle cx="397.7" cy="273.3" r="4.9" fill="#bdbdbd"/>
<circle cx="415.8" cy="272.5" r="4.9" fill="#bdbdbd"/>
<circle cx="421.7" cy="288.3" r="4.9" fill="#bdbdbd"/>
<circle cx="425.0" cy="291.7" r="4.9" fill="#bdbdbd"/>
<circle cx="418.3" cy="297.5" r="4.9" fill="#bdbdbd"/>
<circle cx="435.3" cy="306.7" r="4.9" fill="#bdbdbd"/>
<circle cx="276.7" cy="756.7" r="4.9" fill="#bdbdbd"/>
<circle cx="327.8" cy="668.0" r="4.9" fill="#bdbdbd"/>
<circle cx="327.5" cy="684.2" r="4.9" fill="#bdbdbd"/>
<circle cx="336.3" cy="682.5" r="4.9" fill="#bdbdbd"/>
<circle cx="306.3" cy="697.5" r="4.9" fill="#bdbdbd"/>
<circle cx="335.3" cy="707.5" r="4.9" fill="#bdbdbd"/>
<circle cx="359.7" cy="721.7" r="4.9" fill="#bdbdbd"/>
<circle cx="342.5" cy="729.7" r="4.9" fill="#bdbdbd"/>
<circle cx="357.2" cy="739.2" r="4.9" fill="#bdbdbd"/>
<circle cx="312.5" cy="782.2" r="4.9" fill="#bdbdbd"/>
<circle cx="383.3" cy="716.7" r="4.9" fill="#bdbdbd"/>
<circle cx="398.7" cy="743.3" r="4.9" fill="#bdbdbd"/>
<circle cx="371.7" cy="738.8" r="4.9" fill="#bdbdbd"/>
<circle cx="416.3" cy="753.8" r="4.9" fill="#bdbdbd"/>
<circle cx="394.7" cy="758.3" r="4.9" fill="#bdbdbd"/>
<circle cx="390.0" cy="761.7" r="4.9" fill="#bdbdbd"/>
<circle cx="384.2" cy="774.2" r="4.9" fill="#bdbdbd"/>
<circle cx="425.5" cy="783.3" r="4.9" fill="#bdbdbd"/>
<circle cx="435.8" cy="775.8" r="4.9" fill="#bdbdbd"/>
<circle cx="422.0" cy="791.7" r="4.9" fill="#bdbdbd"/>
<circle cx="418.3" cy="796.7" r="4.9" fill="#bdbdbd"/>
<path d="M388.9 259.8 l4.2 8.2 h-8.4 z" fill="#bdbdbd"/>
<path d="M527.4 234.1 l4.2 8.2 h-8.4 z" fill="#bdbdbd"/>
<path d="M387.5 778.2 l4.2 8.2 h-8.4 z" fill="#bdbdbd"/>
<path d="M527.0 719.0 l4.2 8.2 h-8.4 z" fill="#bdbdbd"/>
<path d="M282.0 151.4 l5.95 5.95 l-5.95 5.95 l-5.95 -5.95 z" fill="#bdbdbd" stroke-width="2.3"/>
<path d="M303.3 179.7 l5.95 5.95 l-5.95 5.95 l-5.95 -5.95 z" fill="#bdbdbd" stroke-width="2.3"/>
<path d="M369.2 325.7 l5.95 5.95 l-5.95 5.95 l-5.95 -5.95 z" fill="#bdbdbd" stroke-width="2.3"/>
<path d="M303.3 609.9 l5.95 5.95 l-5.95 5.95 l-5.95 -5.95 z" fill="#bdbdbd" stroke-width="2.3"/>
<path d="M281.7 656.5 l5.95 5.95 l-5.95 5.95 l-5.95 -5.95 z" fill="#bdbdbd" stroke-width="2.3"/>
<path d="M370.0 749.9 l5.95 5.95 l-5.95 5.95 l-5.95 -5.95 z" fill="#bdbdbd" stroke-width="2.3"/>
<path d="M283.3 753.7 l5.95 5.95 l-5.95 5.95 l-5.95 -5.95 z" fill="#bdbdbd" stroke-width="2.3"/>
</g>
<g stroke="#000" stroke-width="1.25" fill="none">
<path d="M81.3 104.3 H572.8 V957.2 H81.3 Z"/>
<path d="M81.3 530.7 H572.8"/>
<path d="M81.3 104.30 h-6.1 M81.3 122.07 h-3.9 M81.3 139.84 h-6.1 M81.3 157.61 h-3.9 M81.3 175.37 h-6.1 M81.3 193.14 h-3.9 M81.3 210.91 h-6.1 M81.3 228.68 h-3.9 M81.3 246.45 h-6.1 M81.3 264.22 h-3.9 M81.3 281.99 h-6.1 M81.3 299.75 h-3.9 M81.3 317.52 h-6.1 M81.3 335.29 h-3.9 M81.3 353.06 h-6.1 M81.3 370.83 h-3.9 M81.3 388.60 h-6.1 M81.3 406.36 h-3.9 M81.3 424.13 h-6.1 M81.3 441.90 h-3.9 M81.3 459.67 h-6.1 M81.3 477.44 h-3.9 M81.3 495.21 h-6.1 M81.3 512.98 h-3.9 M81.3 530.74 h-6.1 M81.3 530.70 h-6.1 M81.3 548.47 h-3.9 M81.3 566.24 h-6.1 M81.3 584.01 h-3.9 M81.3 601.77 h-6.1 M81.3 619.54 h-3.9 M81.3 637.31 h-6.1 M81.3 655.08 h-3.9 M81.3 672.85 h-6.1 M81.3 690.62 h-3.9 M81.3 708.38 h-6.1 M81.3 726.15 h-3.9 M81.3 743.92 h-6.1 M81.3 761.69 h-3.9 M81.3 779.46 h-6.1 M81.3 797.23 h-3.9 M81.3 815.00 h-6.1 M81.3 832.76 h-3.9 M81.3 850.53 h-6.1 M81.3 868.30 h-3.9 M81.3 886.07 h-6.1 M81.3 903.84 h-3.9 M81.3 921.61 h-6.1 M81.3 939.38 h-3.9 M81.3 957.14 h-6.1"/>
<path d="M81.30 957.2 v6.1 M81.30 530.7 v6.1 M118.29 957.2 v3.9 M118.29 530.7 v3.9 M139.93 957.2 v3.9 M139.93 530.7 v3.9 M155.28 957.2 v3.9 M155.28 530.7 v3.9 M167.19 957.2 v3.9 M167.19 530.7 v3.9 M176.92 957.2 v3.9 M176.92 530.7 v3.9 M185.14 957.2 v3.9 M185.14 530.7 v3.9 M192.27 957.2 v3.9 M192.27 530.7 v3.9 M198.55 957.2 v3.9 M198.55 530.7 v3.9 M204.18 957.2 v6.1 M204.18 530.7 v6.1 M241.16 957.2 v3.9 M241.16 530.7 v3.9 M262.80 957.2 v3.9 M262.80 530.7 v3.9 M278.15 957.2 v3.9 M278.15 530.7 v3.9 M290.06 957.2 v3.9 M290.06 530.7 v3.9 M299.79 957.2 v3.9 M299.79 530.7 v3.9 M308.02 957.2 v3.9 M308.02 530.7 v3.9 M315.14 957.2 v3.9 M315.14 530.7 v3.9 M321.43 957.2 v3.9 M321.43 530.7 v3.9 M327.05 957.2 v6.1 M327.05 530.7 v6.1 M364.04 957.2 v3.9 M364.04 530.7 v3.9 M385.68 957.2 v3.9 M385.68 530.7 v3.9 M401.03 957.2 v3.9 M401.03 530.7 v3.9 M412.94 957.2 v3.9 M412.94 530.7 v3.9 M422.67 957.2 v3.9 M422.67 530.7 v3.9 M430.89 957.2 v3.9 M430.89 530.7 v3.9 M438.02 957.2 v3.9 M438.02 530.7 v3.9 M444.30 957.2 v3.9 M444.30 530.7 v3.9 M449.93 957.2 v6.1 M449.93 530.7 v6.1 M486.91 957.2 v3.9 M486.91 530.7 v3.9 M508.55 957.2 v3.9 M508.55 530.7 v3.9 M523.90 957.2 v3.9 M523.90 530.7 v3.9 M535.81 957.2 v3.9 M535.81 530.7 v3.9 M545.54 957.2 v3.9 M545.54 530.7 v3.9 M553.77 957.2 v3.9 M553.77 530.7 v3.9 M560.89 957.2 v3.9 M560.89 530.7 v3.9 M567.18 957.2 v3.9 M567.18 530.7 v3.9 M572.80 957.2 v6.1 M572.80 530.7 v6.1"/>
</g>
<g font-size="20.4" text-anchor="end">
<text transform="translate(71.6 110.3) scale(1 1)">200</text>
<text transform="translate(71.6 145.8) scale(1 1)">100</text>
<text transform="translate(71.6 181.4) scale(1 1)">0</text>
<text transform="translate(71.6 216.9) scale(1 1)">-100</text>
<text transform="translate(71.6 252.4) scale(1 1)">-200</text>
<text transform="translate(71.6 288.0) scale(1 1)">-300</text>
<text transform="translate(71.6 323.5) scale(1 1)">-400</text>
<text transform="translate(71.6 359.1) scale(1 1)">-500</text>
<text transform="translate(71.6 394.6) scale(1 1)">-600</text>
<text transform="translate(71.6 430.1) scale(1 1)">-700</text>
<text transform="translate(71.6 465.7) scale(1 1)">-800</text>
<text transform="translate(71.6 501.2) scale(1 1)">-900</text>
<text transform="translate(71.6 536.7) scale(1 1)">200</text>
<text transform="translate(71.6 572.2) scale(1 1)">100</text>
<text transform="translate(71.6 607.8) scale(1 1)">0</text>
<text transform="translate(71.6 643.3) scale(1 1)">-100</text>
<text transform="translate(71.6 678.8) scale(1 1)">-200</text>
<text transform="translate(71.6 714.4) scale(1 1)">-300</text>
<text transform="translate(71.6 749.9) scale(1 1)">-400</text>
<text transform="translate(71.6 785.5) scale(1 1)">-500</text>
<text transform="translate(71.6 821.0) scale(1 1)">-600</text>
<text transform="translate(71.6 856.5) scale(1 1)">-700</text>
<text transform="translate(71.6 892.1) scale(1 1)">-800</text>
<text transform="translate(71.6 927.6) scale(1 1)">-900</text>
<text transform="translate(71.6 963.1) scale(1 1)">-1000</text>
</g>
<g font-size="20.4" text-anchor="middle">
<text transform="translate(81.6 982.3) scale(1 1)">1</text>
<text transform="translate(204.5 982.3) scale(1 1)">10</text>
<text transform="translate(327.4 982.3) scale(1 1)">100</text>
<text transform="translate(450.2 982.3) scale(1 1)">1000</text>
<text transform="translate(573.4 982.3) scale(1 1)">10000</text>
</g>
<g transform="translate(22.6 307.5) rotate(-90)" font-size="22.6">
<text x="-69.4" y="0">δ</text><text x="-56.5" y="-8.5" font-size="15.8">29</text><text x="-39" y="0">Si/</text><text x="-10.3" y="-8.5" font-size="15.8">28</text><text x="8.8" y="0">Si</text><text x="33.6" y="-0.6" font-size="20.4">(</text><text x="40.6" y="0" font-style="italic" textLength="21.5" lengthAdjust="spacingAndGlyphs">‰</text><text x="61.4" y="-0.6" font-size="20.4">)</text>
</g>
<g transform="translate(22.6 733.5) rotate(-90)" font-size="22.6">
<text x="-67.8" y="0">δ</text><text x="-54.4" y="-8.5" font-size="15.8">30</text><text x="-35.7" y="0">Si/</text><text x="-7.3" y="-8.5" font-size="15.8">28</text><text x="10.5" y="0">Si</text><text x="33.6" y="-0.6" font-size="20.4">(</text><text x="40.6" y="0" font-style="italic" textLength="21.5" lengthAdjust="spacingAndGlyphs">‰</text><text x="62.7" y="-0.6" font-size="20.4">)</text>
</g>
<g font-size="22.6"><text transform="translate(285.6 1007.5) scale(0.88 1)" font-size="15.6">12</text><text x="302" y="1016.3">C/</text><text transform="translate(325.3 1007.5) scale(0.88 1)" font-size="15.6">13</text><text x="342.5" y="1016.3">C</text></g>
<text transform="translate(89.3 512.7) scale(1.09 1)" font-size="18">(a)</text>
<text transform="translate(91.3 937.9) scale(1.09 1)" font-size="18">(b)</text>
<rect x="164" y="1" width="330.3" height="119" fill="#fff" stroke="#000" stroke-width="1.3"/>
<g stroke="#000" stroke-width="2">
<path d="M195.5 17.9 l3.8 7.2 h-7.6 z" fill="#fff"/>
<path d="M231.8 17.5 l4.2 8.2 h-8.4 z" fill="#bdbdbd"/>
<circle cx="195.5" cy="46.0" r="4.35" fill="#fff"/>
<circle cx="231.7" cy="46.0" r="4.9" fill="#bdbdbd"/>
<rect x="191.2" y="65.8" width="8.7" height="8.7" fill="#fff"/>
<rect x="227.4" y="65.7" width="8.8" height="8.8" fill="#bdbdbd"/>
<path d="M231.4 88.6 l5.95 5.95 l-5.95 5.95 l-5.95 -5.95 z" fill="#bdbdbd" stroke-width="2.3"/>
</g>
<g fill="none" stroke-width="4"><path d="M336.5 21 H382.8" stroke="#000"/><path d="M338.2 52 H382.8" stroke="#000" stroke-dasharray="4.7 4.5"/><path d="M336.5 82.7 H382.8" stroke="#858585"/></g>
<g font-size="19.3">
<text transform="translate(268 26.9) scale(1.09 1)">X0</text><text transform="translate(268 51.4) scale(1.09 1)">X1</text><text transform="translate(268 75.9) scale(1.09 1)">X2</text>
<text transform="translate(267.3 100.4) scale(1.03 1)">Si<tspan dy="5.5">3</tspan><tspan dy="-5.5">N</tspan><tspan dy="5.5">4</tspan></text>
<text transform="translate(396.3 28.6) scale(1.09 1)">15M</text>
<circle cx="444.0" cy="28.2" r="6.5" fill="none" stroke="#000" stroke-width="1.6"/><circle cx="444.0" cy="28.2" r="2.25" fill="#000"/>
<text transform="translate(458.2 28.6) scale(1.06 1)">SN</text>
<text transform="translate(396.3 59.6) scale(1.09 1)">20M</text>
<circle cx="444.0" cy="59" r="6.5" fill="none" stroke="#000" stroke-width="1.6"/><circle cx="444.0" cy="59" r="2.25" fill="#000"/>
<text transform="translate(458.2 59.6) scale(1.06 1)">SN</text>
<text transform="translate(396.3 90.7) scale(1.09 1)">25M</text>
<circle cx="444.0" cy="89.6" r="6.5" fill="none" stroke="#000" stroke-width="1.6"/><circle cx="444.0" cy="89.6" r="2.25" fill="#000"/>
<text transform="translate(458.2 90.7) scale(1.06 1)">SN</text>
</g>
</svg></body></html>
